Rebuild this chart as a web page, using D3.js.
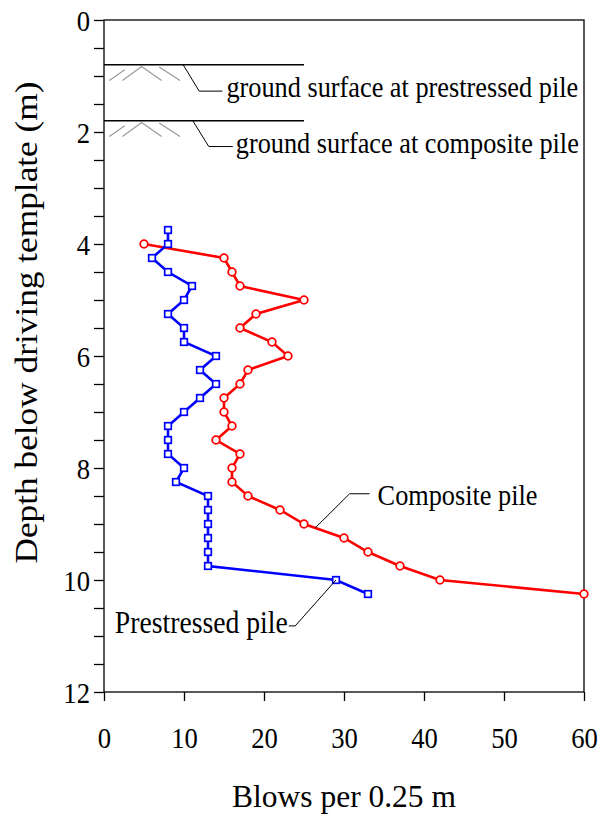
<!DOCTYPE html>
<html>
<head>
<meta charset="utf-8">
<script src="https://cdn.jsdelivr.net/npm/d3@7"></script>
<style>body{margin:0;background:#fff} text{font-family:"Liberation Serif","Times New Roman",serif}</style>
</head>
<body>
<svg></svg>
<script>
// blows per 0.25 m
const depthPrestressed = [3.75, 4, 4.25, 4.5, 4.75, 5, 5.25, 5.5, 5.75, 6, 6.25, 6.5, 6.75, 7, 7.25, 7.5, 7.75, 8, 8.25, 8.5, 8.75, 9, 9.25, 9.5, 9.75, 10, 10.25];
const blowsPrestressed = [8, 8, 6, 8, 11, 10, 8, 10, 10, 14, 12, 14, 12, 10, 8, 8, 8, 10, 9, 13, 13, 13, 13, 13, 13, 29, 33];
const depthComposite = [4, 4.25, 4.5, 4.75, 5, 5.25, 5.5, 5.75, 6, 6.25, 6.5, 6.75, 7, 7.25, 7.5, 7.75, 8, 8.25, 8.5, 8.75, 9, 9.25, 9.5, 9.75, 10, 10.25];
const blowsComposite = [5, 15, 16, 17, 25, 19, 17, 21, 23, 18, 17, 15, 15, 16, 14, 17, 16, 16, 18, 22, 25, 30, 33, 37, 42, 60];

const xTickLabels = [0, 10, 20, 30, 40, 50, 60];
const yTickLabels = [0, 2, 4, 6, 8, 10, 12];
const groundDepths = [0.8, 1.8];
const groundLabels = ["ground surface at prestressed pile", "ground surface at composite pile"];

const width = 602, height = 814;
const margin = {top: 20, right: 18, bottom: 122, left: 104};
const SY = 1.11; // the original text is a bit taller than wide
const serif = '"Liberation Serif", "Times New Roman", serif';

const x = d3.scaleLinear().domain([0, 60]).range([margin.left, width - margin.right]);
const y = d3.scaleLinear().domain([0, 12]).range([margin.top, height - margin.bottom]);

const svg = d3.select("svg").attr("width", width).attr("height", height)
  .attr("font-family", serif);

// axes
const gy = svg.append("g")
  .attr("transform", `translate(${x(0)},0)`)
  .call(d3.axisLeft(y)
    .tickValues(d3.range(0, 12.01, 0.5))
    .tickSize(10).tickSizeOuter(0)
    .tickFormat(d => yTickLabels.includes(d) ? d : ""))
  .attr("font-family", serif).attr("font-size", 26.7);
gy.select(".domain").remove();
gy.selectAll("line").attr("stroke", "#000").attr("stroke-width", 1.3);
gy.selectAll("text")
  .attr("x", null).attr("dy", "0.36em")
  .attr("transform", `translate(-14,0) scale(1,${SY})`)
  .attr("fill", "#000");

const gx = svg.append("g")
  .attr("transform", `translate(0,${y(12)})`)
  .call(d3.axisBottom(x).tickValues(xTickLabels).tickSize(9).tickSizeOuter(0))
  .attr("font-family", serif).attr("font-size", 26.7);
gx.select(".domain").remove();
gx.selectAll("line").attr("stroke", "#000").attr("stroke-width", 1.3);
gx.selectAll("text")
  .attr("y", null).attr("dy", null)
  .attr("transform", `translate(0,56) scale(1,${SY})`)
  .attr("fill", "#000");

svg.append("rect")
  .attr("x", x(0)).attr("y", y(0))
  .attr("width", x(60) - x(0)).attr("height", y(12) - y(0))
  .attr("fill", "none").attr("stroke", "#000").attr("stroke-width", 1.3);

// ground surfaces with hatching
const hatch = [
  [[0.66, 0.28], [2.6, 0.09]],
  [[2.3, 0.28], [4.7, 0.03], [7.2, 0.28]],
  [[6.9, 0.04], [9.5, 0.28]]
];
const line = d3.line().x(d => x(d[0])).y(d => y(d[1]));

groundDepths.forEach(gd => {
  hatch.forEach(h => {
    svg.append("path")
      .attr("d", line(h.map(p => [p[0], gd + p[1]])))
      .attr("fill", "none").attr("stroke", "#999").attr("stroke-width", 1.2);
  });
  svg.append("path")
    .attr("d", line([[0, gd], [25, gd]]))
    .attr("stroke", "#000").attr("stroke-width", 1.6);
});

function label(txt, px, py, size, anchor) {
  svg.append("text")
    .attr("transform", `translate(${px},${py}) scale(1,${SY})`)
    .attr("text-anchor", anchor || "start")
    .attr("font-size", size)
    .text(txt);
}

function leader(pts) {
  svg.append("path")
    .attr("d", line(pts))
    .attr("fill", "none").attr("stroke", "#000").attr("stroke-width", 1);
}

// ground surface callouts
leader([[9.9, 0.8], [11.9, 1.27], [14.8, 1.27]]);
label(groundLabels[0], x(14.8) + 4, y(1.27) + 6, 26.3);
leader([[11.1, 1.8], [13.1, 2.26], [16.1, 2.26]]);
label(groundLabels[1], x(16.1) + 3, y(2.26) + 6, 26.3);

// series
const pre = depthPrestressed.map((d, i) => [blowsPrestressed[i], d]);
const comp = depthComposite.map((d, i) => [blowsComposite[i], d]);

svg.append("path").attr("d", line(comp))
  .attr("fill", "none").attr("stroke", "#ff0000").attr("stroke-width", 2.6);
svg.append("path").attr("d", line(pre))
  .attr("fill", "none").attr("stroke", "#0000ff").attr("stroke-width", 2.6);

svg.append("g").selectAll("circle").data(comp).join("circle")
  .attr("cx", d => x(d[0])).attr("cy", d => y(d[1])).attr("r", 3.8)
  .attr("fill", "#fff").attr("stroke", "#ff0000").attr("stroke-width", 1.8);

svg.append("g").selectAll("rect").data(pre).join("rect")
  .attr("x", d => x(d[0]) - 3.3).attr("y", d => y(d[1]) - 3.3)
  .attr("width", 6.6).attr("height", 6.6)
  .attr("fill", "#fff").attr("stroke", "#0000ff").attr("stroke-width", 1.7);

// series callouts
leader([[26.4, 9.07], [30.7, 8.46], [33.2, 8.46]]);
label("Composite pile", x(33.2) + 8, y(8.46) + 11, 26.3);
leader([[29, 10], [23.9, 10.82], [23.1, 10.82]]);
label("Prestressed pile", x(23.1) - 1, y(10.82) + 7, 27.7, "end");

// axis titles
svg.append("text")
  .attr("transform", `translate(${(x(0) + x(60)) / 2},807) scale(1,1.02)`)
  .attr("text-anchor", "middle")
  .attr("font-size", 31.5)
  .text("Blows per 0.25 m");

svg.append("text")
  .attr("transform", `translate(36.7,322.5) scale(1,${SY}) rotate(-90)`)
  .attr("text-anchor", "middle")
  .attr("font-size", 31.8)
  .text("Depth below driving template (m)");
</script>
</body>
</html>
